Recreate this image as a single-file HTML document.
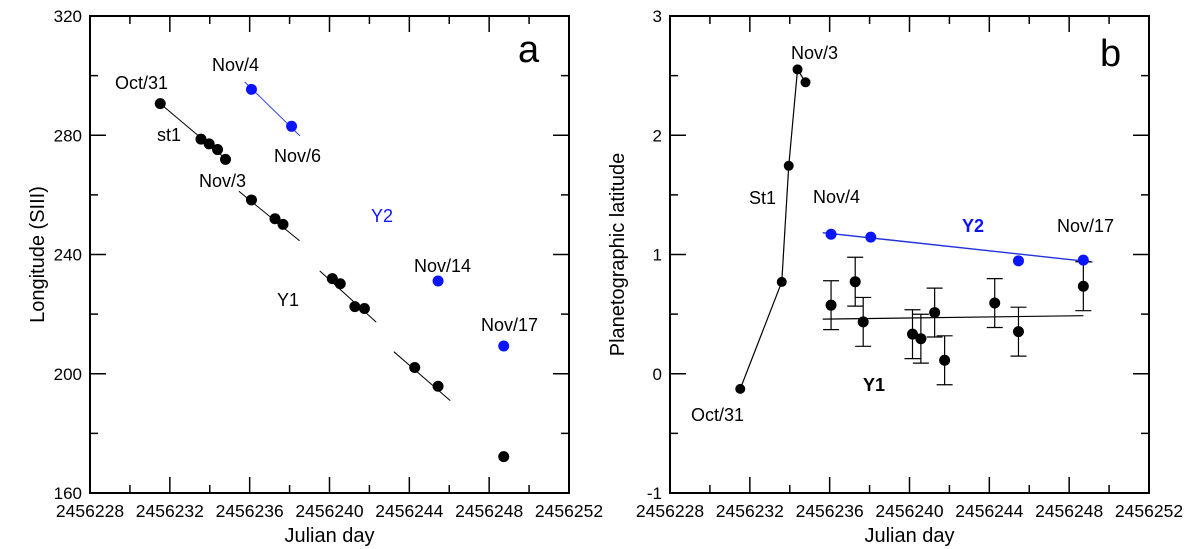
<!DOCTYPE html>
<html><head><meta charset="utf-8"><style>
html,body{margin:0;padding:0;background:#fff;}
svg{display:block;font-family:"Liberation Sans",Arial,sans-serif;}
</style></head><body>
<svg id="c" width="1200" height="549" viewBox="0 0 1200 549"></svg>
<script>
// ---- Panel a data ----
const aBlackDays = [231.52,233.56,233.97,234.39,234.79,236.09,237.27,237.67,240.14,240.54,241.27,241.75,244.27,245.44,248.73];
const aBlackLon  = [290.6,278.7,277.1,275.2,271.9,258.3,252.0,250.1,231.9,230.2,222.5,221.9,202.1,195.8,172.2];
const aBlueDays  = [236.09,238.10,245.44,248.73];
const aBlueLon   = [295.4,283.0,231.1,209.3];
const aFitX1 = [231.52,235.46,239.51,243.22];
const aFitY1 = [290.6,261.2,234.5,207.4];
const aFitX2 = [234.96,238.50,242.34,246.05];
const aFitY2 = [271.2,244.6,217.3,191.0];
const aBlueFitX = [235.75,238.52];
const aBlueFitY = [297.9,279.8];
// ---- Panel b data ----
const bSt1Days = [231.52,233.60,233.95,234.39,234.79];
const bSt1Lat  = [-0.127,0.77,1.744,2.552,2.444];
const bBlueDays = [236.07,238.06,245.46,248.71];
const bBlueLat  = [1.170,1.146,0.947,0.953];
const bBlueFitX = [235.65,249.17];
const bBlueFitY = [1.183,0.937];
const bY1Days = [236.07,237.28,237.68,240.15,240.57,241.26,241.76,244.27,245.46,248.71];
const bY1Lat  = [0.575,0.772,0.435,0.332,0.294,0.513,0.113,0.593,0.353,0.734];
const bY1Err  = [0.205,0.205,0.205,0.205,0.205,0.205,0.205,0.205,0.205,0.205];
const bY1FitX = [235.65,248.71];
const bY1FitY = [0.458,0.487];
const xTickLabels = ["2456228","2456232","2456236","2456240","2456244","2456248","2456252"];
const aYTickLabels = ["160","200","240","280","320"];
const bYTickLabels = ["-1","0","1","2","3"];

const svg = document.getElementById('c');
const NS = 'http://www.w3.org/2000/svg';
function mk(tag, attrs, parent){
  const e = document.createElementNS(NS, tag);
  for (const k in attrs) e.setAttribute(k, attrs[k]);
  (parent||svg).appendChild(e);
  return e;
}
function txt(s, x, y, size, anchor, fill, weight, parent){
  const t = mk('text', {x:x, y:y, 'font-size':size, 'text-anchor':anchor||'start', fill:fill||'#000', 'font-weight':weight||'normal'}, parent);
  t.textContent = s;
  return t;
}

function panel(L, R, T, B, ymin, ymax, yMajor, yMinor, yLabels, yTitle, name){
  const g = mk('g', {});
  
  
  const sx = d => L + (d - 228) / 24 * (R - L);
  const sy = v => B - (v - ymin) / (ymax - ymin) * (B - T);
  const frame = mk('rect', {x:L, y:T, width:R-L, height:B-T, fill:'none', stroke:'#000', 'stroke-width':2}, g);
  
  
  for (let d = 228; d <= 252; d += 2){
    const maj = (d - 228) % 4 === 0;
    const len = maj ? 16 : 8;
    const x = sx(d);
    const t1 = mk('line', {x1:x, y1:B, x2:x, y2:B-len, stroke:'#000', 'stroke-width':1.5}, g);
    
    
    mk('line', {x1:x, y1:T, x2:x, y2:T+len, stroke:'#000', 'stroke-width':1.5}, g);
  }
  xTickLabels.forEach((s, i) => {
    const t = txt(s, sx(228 + i*4), B + 24, 17.5, 'middle', '#000', 'normal', g);
    
    
  });
  for (let v = ymin; v <= ymax + 1e-9; v += yMinor){
    const maj = Math.abs(((v - ymin) / yMajor) - Math.round((v - ymin) / yMajor)) < 1e-6;
    const len = maj ? 16 : 8;
    const y = sy(v);
    const t1 = mk('line', {x1:L, y1:y, x2:L+len, y2:y, stroke:'#000', 'stroke-width':1.5}, g);
    
    
    mk('line', {x1:R, y1:y, x2:R-len, y2:y, stroke:'#000', 'stroke-width':1.5}, g);
  }
  yLabels.forEach((s, i) => {
    const t = txt(s, L - 8, sy(ymin + i*yMajor) + 6, 17, 'end', '#000', 'normal', g);
    
    
  });
  const xt = txt('Julian day', (L+R)/2, 542, 20, 'middle', '#000', 'normal', g);
  
  
  const cy = (T+B)/2;
  const yt = txt(yTitle, 0, 0, 20, 'middle', '#000', 'normal', g);
  yt.setAttribute('transform', 'translate(' + (L - 46) + ',' + cy + ') rotate(-90)');
  
  
  return {g, sx, sy};
}
function dot(p, d, v, color, r, nm){
  const c = mk('circle', {cx:p.sx(d), cy:p.sy(v), r:r||5, fill:color}, p.g);
  
  
}
function seg(p, x1, y1, x2, y2, color, w, nm){
  const l = mk('line', {x1:p.sx(x1), y1:p.sy(y1), x2:p.sx(x2), y2:p.sy(y2), stroke:color, 'stroke-width':w||1}, p.g);
  
  
}

// ---- Panel a ----
const pa = panel(90, 569, 16, 493, 160, 320, 40, 20, aYTickLabels, 'Longitude (SIII)', 'panel-a');
aFitX1.forEach((x, i) => seg(pa, x, aFitY1[i], aFitX2[i], aFitY2[i], '#000', 1, 'y1-fit-line'));
seg(pa, aBlueFitX[0], aBlueFitY[0], aBlueFitX[1], aBlueFitY[1], '#3344dd', 1, 'y2-fit-line');
aBlackDays.forEach((d, i) => dot(pa, d, aBlackLon[i], '#000', 5.5, 'y1-point'));
aBlueDays.forEach((d, i) => dot(pa, d, aBlueLon[i], '#0a14ff', 5.5, 'y2-point'));
[['Oct/31',115,89,'#000'],['st1',157,141,'#000'],['Nov/4',212,71,'#000'],['Nov/6',274,162,'#000'],
 ['Nov/3',199,187,'#000'],['Y2',371,222,'#0a14ff'],['Y1',277,306,'#000'],['Nov/14',414,272,'#000'],['Nov/17',481,331,'#000']]
 .forEach(a => { const t = txt(a[0], a[1], a[2], 18, 'start', a[3], 'normal', pa.g);
     });
const la = txt('a', 518, 62, 38, 'start', '#000', 'normal', pa.g);



// ---- Panel b ----
const pb = panel(670, 1149, 16, 493, -1, 3, 1, 0.5, bYTickLabels, 'Planetographic latitude', 'panel-b');
for (let i = 0; i < bSt1Days.length - 1; i++) seg(pb, bSt1Days[i], bSt1Lat[i], bSt1Days[i+1], bSt1Lat[i+1], '#000', 1.2, 'st1-line');
seg(pb, bBlueFitX[0], bBlueFitY[0], bBlueFitX[1], bBlueFitY[1], '#2233dd', 1.4, 'y2-fit-line');
seg(pb, bY1FitX[0], bY1FitY[0], bY1FitX[1], bY1FitY[1], '#000', 1.2, 'y1-fit-line');
bY1Days.forEach((d, i) => {
  const lo = bY1Lat[i] - bY1Err[i], hi = bY1Lat[i] + bY1Err[i];
  seg(pb, d, lo, d, hi, '#000', 1.2, 'error-bar');
  const x = pb.sx(d);
  [lo, hi].forEach(v => {
    const c = mk('line', {x1:x-8, y1:pb.sy(v), x2:x+8, y2:pb.sy(v), stroke:'#000', 'stroke-width':1.2}, pb.g);
    
    
  });
});
bSt1Days.forEach((d, i) => dot(pb, d, bSt1Lat[i], '#000', 5, 'st1-point'));
bY1Days.forEach((d, i) => dot(pb, d, bY1Lat[i], '#000', 5.5, 'y1-point'));
bBlueDays.forEach((d, i) => dot(pb, d, bBlueLat[i], '#0a14ff', 5.5, 'y2-point'));
[['Nov/3',791,59,'#000','normal'],['St1',749,204,'#000','normal'],['Nov/4',813,203,'#000','normal'],
 ['Y2',962,232,'#0a14ff','bold'],['Nov/17',1057,232,'#000','normal'],['Y1',863,391,'#000','bold'],['Oct/31',691,421,'#000','normal']]
 .forEach(a => { const t = txt(a[0], a[1], a[2], 18, 'start', a[3], a[4], pb.g);
     });
const lb = txt('b', 1100, 66, 38, 'start', '#000', 'normal', pb.g);


</script>
</body></html>
